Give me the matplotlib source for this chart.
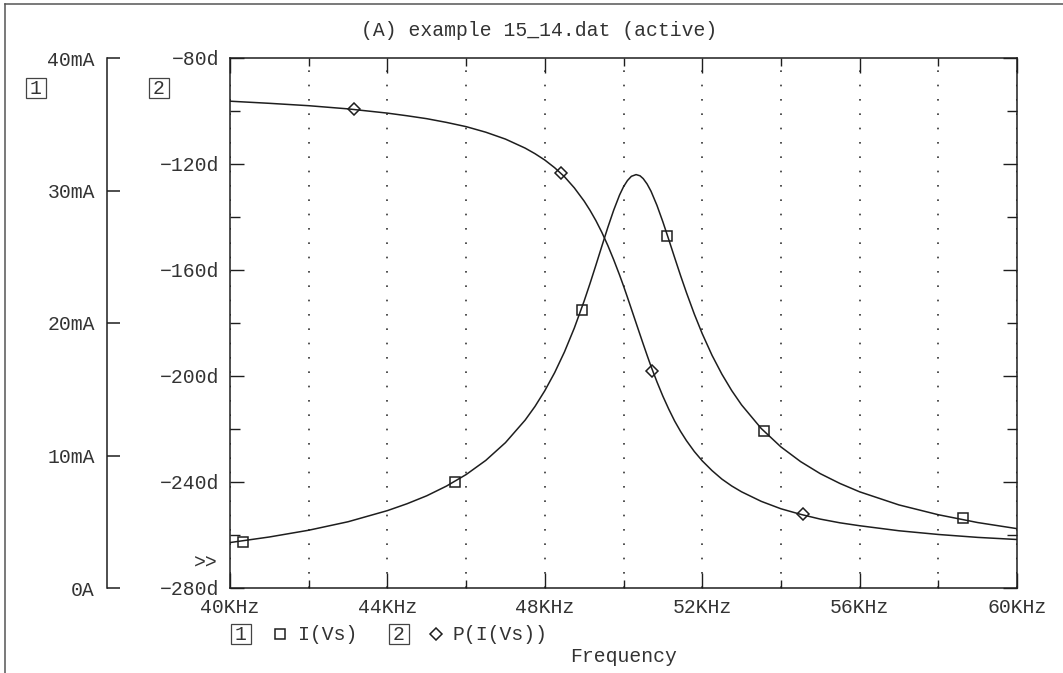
import matplotlib
matplotlib.use('Agg')
import matplotlib.pyplot as plt
from matplotlib.ticker import FixedLocator, MultipleLocator
from matplotlib.lines import Line2D
from matplotlib.patches import Rectangle

plt.rcParams['font.family'] = ['Liberation Mono', 'DejaVu Sans Mono']

# ---------------- data ----------------
freq_khz = [40, 41, 42, 43, 44, 44.5, 45, 45.5, 46, 46.5,
            47, 47.5, 47.75, 48, 48.25, 48.5, 48.75, 49, 49.15, 49.3,
            49.45, 49.6, 49.75, 49.9, 50.0, 50.1, 50.2, 50.32, 50.42, 50.5,
            50.6, 50.7, 50.85, 51.0, 51.15, 51.3, 51.45, 51.6, 51.8, 52,
            52.25, 52.5, 52.75, 53, 53.5, 54, 54.5, 55, 55.5, 56,
            57, 58, 59, 60]
current_ma = [3.43, 3.85, 4.36, 5.00, 5.84, 6.36, 6.96, 7.69, 8.56, 9.63,
              10.97, 12.67, 13.70, 14.89, 16.25, 17.82, 19.62, 21.66, 22.99, 24.38,
              25.80, 27.20, 28.51, 29.66, 30.28, 30.75, 31.07, 31.20, 31.11, 30.90,
              30.49, 29.94, 28.88, 27.64, 26.30, 24.93, 23.58, 22.29, 20.67, 19.20,
              17.56, 16.14, 14.90, 13.82, 12.04, 10.65, 9.54, 8.63, 7.89, 7.26,
              6.27, 5.53, 4.94, 4.48]
phase_deg = [-96.3, -97.1, -98.0, -99.2, -100.8, -101.8, -102.9, -104.3, -105.9, -108.0,
             -110.6, -114.0, -116.1, -118.5, -121.4, -124.8, -129.0, -134.0, -137.5, -141.4,
             -145.8, -150.7, -156.1, -161.9, -166.0, -170.3, -174.7, -180.0, -184.4, -187.9,
             -192.2, -196.4, -202.2, -207.6, -212.5, -217.0, -220.9, -224.4, -228.5, -232.0,
             -235.7, -238.9, -241.5, -243.7, -247.3, -250.1, -252.2, -254.0, -255.4, -256.5,
             -258.4, -259.8, -260.9, -261.7]

square_freq = [40.34, 45.73, 48.945, 51.11, 53.58, 58.64]
square_current = [3.47, 8.0, 21.0, 26.57, 11.85, 5.28]
diamond_freq = [43.15, 48.41, 50.72, 54.56]
diamond_phase = [-99.4, -123.4, -198.0, -252.0]

x_major = [40, 44, 48, 52, 56, 60]
x_labels = ['40KHz', '44KHz', '48KHz', '52KHz', '56KHz', '60KHz']
phase_major = [-280, -240, -200, -160, -120, -80]
current_major = [0, 10, 20, 30, 40]
current_labels = ['0A', '10mA', '20mA', '30mA', '40mA']

title = '(A) example 15_14.dat (active)'
legend_names = ['I(Vs)', 'P(I(Vs))']

# ---------------- layout ----------------
W, H = 1063, 673
fig = plt.figure(figsize=(W / 100, H / 100), dpi=100)
fig.patch.set_facecolor('white')

def fx(px):
    return px / W

def fy(py):
    return 1 - py / H

L, R, T, B = 230, 1017, 58, 588
TXT = '#333333'
LN = '#1e1e1e'
FS = 14.2
PT = 72 / 100  # points per pixel

ax = fig.add_axes([fx(L), fy(B), fx(R - L), (B - T) / H])
ax.set_xlim(40, 60)
ax.set_ylim(-280, -80)

ax2 = ax.twinx()
ax2.set_ylim(0, 40)

for s in ax.spines.values():
    s.set_linewidth(1.1)
    s.set_color(LN)

# x ticks
ax.xaxis.set_major_locator(FixedLocator(x_major))
ax.set_xticklabels(x_labels)
ax.xaxis.set_minor_locator(MultipleLocator(2))
# phase ticks
ax.yaxis.set_major_locator(FixedLocator(phase_major))
ax.set_yticklabels([('%dd' % v).replace('-', '\u2212') for v in phase_major])
ax.yaxis.set_minor_locator(MultipleLocator(20))

ax.tick_params(which='both', direction='in', top=True, right=True,
               labelright=False, labeltop=False, colors=LN, labelcolor=TXT,
               labelsize=FS, width=1.0)
ax.tick_params(axis='y', which='major', length=14 * PT, pad=11 * PT)
ax.tick_params(axis='y', which='minor', length=10 * PT)
ax.tick_params(axis='x', which='major', length=15 * PT, pad=10 * PT)
ax.tick_params(axis='x', which='minor', length=8 * PT)

ax.grid(which='both', axis='x', color='#333333', linewidth=1.2,
        linestyle=(0, (1, 7.6)))

# current axis (separate spine at the far left)
for name in ['right', 'top', 'bottom']:
    ax2.spines[name].set_visible(False)
ax2.spines['left'].set_visible(True)
ax2.spines['left'].set_position(('axes', (107 - L) / (R - L)))
ax2.spines['left'].set_linewidth(1.1)
ax2.spines['left'].set_color(LN)
ax2.yaxis.set_ticks_position('left')
ax2.yaxis.set_major_locator(FixedLocator(current_major))
ax2.set_yticklabels(current_labels)
ax2.tick_params(axis='y', direction='in', length=13 * PT, width=1.1,
                pad=12 * PT, labelsize=FS, colors=LN, labelcolor=TXT,
                right=False, labelright=False, left=True, labelleft=True)

# ---------------- data marks ----------------
ax.plot(freq_khz, phase_deg, color=LN, linewidth=1.1, zorder=3)
ax2.plot(freq_khz, current_ma, color=LN, linewidth=1.1, zorder=3)
ax.plot(diamond_freq, diamond_phase, linestyle='none', marker='D', markersize=6.2,
        markerfacecolor='none', markeredgecolor=LN, markeredgewidth=1.1, zorder=4)
ax2.plot(square_freq, square_current, linestyle='none', marker='s', markersize=7.2,
         markerfacecolor='none', markeredgecolor=LN, markeredgewidth=1.1, zorder=4,
         clip_on=True)

# ---------------- texts ----------------
fig.text(fx(539), fy(31), title, ha='center', va='center', fontsize=FS, color=TXT)
fig.text(fx(623.5), fy(656), 'Frequency', ha='center', va='center', fontsize=FS, color=TXT)
fig.text(fx(218), fy(563), '>>', ha='right', va='center', fontsize=FS, color=TXT)

def boxed(cx, cy, s):
    fig.add_artist(Rectangle((fx(cx - 10), fy(cy + 10)), fx(20), 20 / H,
                             transform=fig.transFigure, fill=False,
                             edgecolor='#444444', linewidth=0.9))
    fig.text(fx(cx), fy(cy), s, ha='center', va='center', fontsize=FS, color=TXT)

boxed(36, 88, '1')
boxed(159, 88, '2')
boxed(241, 634, '1')
boxed(399, 634, '2')

fig.add_artist(Line2D([fx(280)], [fy(634)], transform=fig.transFigure, marker='s',
                      markersize=7.2, markerfacecolor='none', markeredgecolor=LN,
                      markeredgewidth=1.1, linestyle='none'))
fig.add_artist(Line2D([fx(436)], [fy(634)], transform=fig.transFigure, marker='D',
                      markersize=6.2, markerfacecolor='none', markeredgecolor=LN,
                      markeredgewidth=1.1, linestyle='none'))
fig.text(fx(298), fy(634), legend_names[0], ha='left', va='center', fontsize=FS, color=TXT)
fig.text(fx(452), fy(634), legend_names[1], ha='left', va='center', fontsize=FS, color=TXT)

# outer frame (top and left edges)
fig.add_artist(Line2D([fx(5), 1], [fy(4), fy(4)], transform=fig.transFigure,
                      color='#555555', linewidth=1.1))
fig.add_artist(Line2D([fx(5), fx(5)], [0, fy(4)], transform=fig.transFigure,
                      color='#555555', linewidth=1.1))

fig.savefig('out.png', dpi=100, facecolor='white')
